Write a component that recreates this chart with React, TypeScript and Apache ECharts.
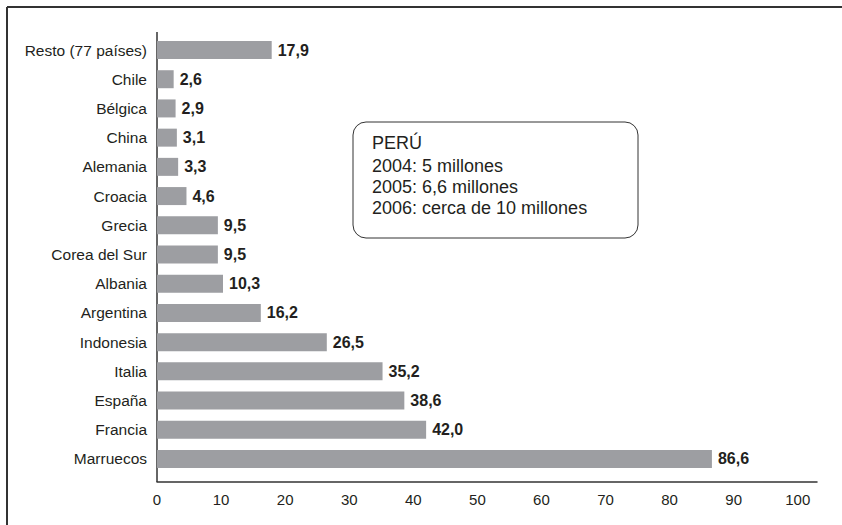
import React, { useEffect, useRef } from "react";
import * as echarts from "echarts";

// Countries, listed top to bottom
const countries = [
  "Resto (77 países)",
  "Chile",
  "Bélgica",
  "China",
  "Alemania",
  "Croacia",
  "Grecia",
  "Corea del Sur",
  "Albania",
  "Argentina",
  "Indonesia",
  "Italia",
  "España",
  "Francia",
  "Marruecos",
];

// Values, in the same order as the countries
const values = [17.9, 2.6, 2.9, 3.1, 3.3, 4.6, 9.5, 9.5, 10.3, 16.2, 26.5, 35.2, 38.6, 42.0, 86.6];

// Tick labels of the value axis
const xTicks = [0, 10, 20, 30, 40, 50, 60, 70, 80, 90, 100];

// Note box lines
const noteLines = [
  "PERÚ",
  "2004: 5 millones",
  "2005: 6,6 millones",
  "2006: cerca de 10 millones",
];

const SANS = "'Liberation Sans', Arial, Helvetica, sans-serif";
const INK = "#231f20";

const fmt = (v: number) => v.toFixed(1).replace(".", ",");

export default function App() {
  const ref = useRef<HTMLDivElement>(null);

  useEffect(() => {
    if (!ref.current) return;
    const chart = echarts.init(ref.current, undefined, { renderer: "svg" });

    const noteY = [143, 166, 187, 208];

    chart.setOption({
      animation: false,
      backgroundColor: "#ffffff",
      grid: { left: 157, right: 25, top: 35.4, height: 438.2, containLabel: false },
      xAxis: {
        type: "value",
        min: 0,
        max: 103,
        interval: 10,
        offset: 8,
        axisLine: { show: true, lineStyle: { color: "#333333", width: 1.5 } },
        axisTick: { show: false },
        splitLine: { show: false },
        axisLabel: {
          margin: 10,
          fontFamily: SANS,
          fontSize: 15,
          color: INK,
          formatter: (v: number) => (xTicks.includes(v) ? String(v) : ""),
        },
      },
      yAxis: {
        type: "category",
        data: countries,
        inverse: true,
        axisLine: { show: false },
        axisTick: { show: false },
        axisLabel: { margin: 10, fontFamily: SANS, fontSize: 15.5, color: INK },
      },
      series: [
        {
          type: "bar",
          data: values,
          barWidth: 18,
          itemStyle: { color: "#9d9ea2" },
          label: {
            show: true,
            position: "right",
            distance: 6,
            fontFamily: SANS,
            fontWeight: "bold",
            fontSize: 16,
            color: INK,
            formatter: (p: any) => fmt(p.value),
          },
        },
      ],
      graphic: [
        // outer frame: top and left rules
        { type: "line", shape: { x1: 7, y1: 7, x2: 842, y2: 7 }, style: { stroke: "#333333", lineWidth: 2 } },
        { type: "line", shape: { x1: 7, y1: 7, x2: 7, y2: 525 }, style: { stroke: "#333333", lineWidth: 2 } },
        // vertical axis rule spanning the full plot height
        { type: "line", shape: { x1: 157, y1: 32, x2: 157, y2: 482 }, style: { stroke: "#333333", lineWidth: 1.5 } },
        // note box
        {
          type: "rect",
          shape: { x: 353, y: 122, width: 285, height: 116, r: 13 },
          style: { fill: "#ffffff", stroke: "#333333", lineWidth: 1 },
        },
        ...noteLines.map((t, i) => ({
          type: "text",
          x: 372,
          y: noteY[i],
          style: {
            text: t,
            fontFamily: SANS,
            fontSize: 18,
            fill: INK,
            verticalAlign: "middle",
            align: "left",
          },
        })),
      ],
    });

    return () => chart.dispose();
  }, []);

  return (
    <div
      ref={ref}
      style={{ position: "absolute", left: 0, top: 0, width: 842, height: 525 }}
    />
  );
}
